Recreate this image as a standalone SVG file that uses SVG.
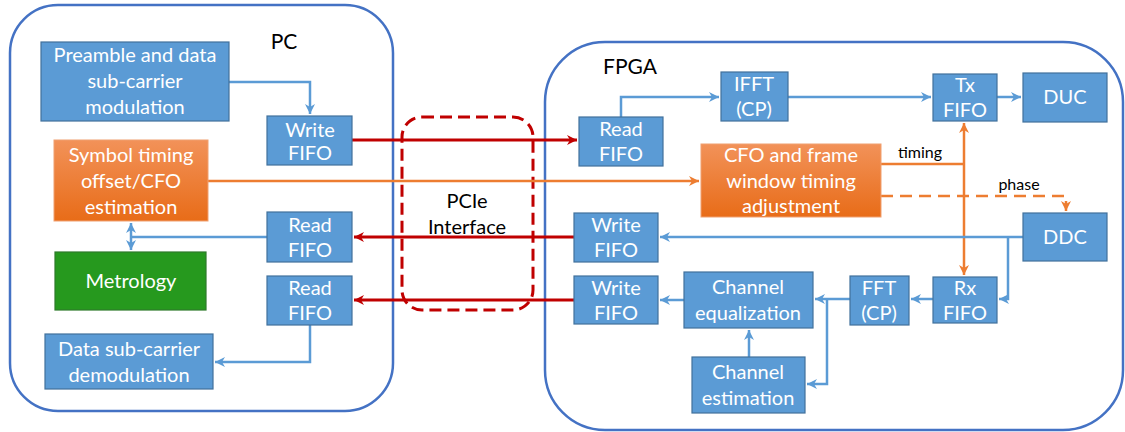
<svg xmlns="http://www.w3.org/2000/svg" width="1125" height="432" viewBox="0 0 1125 432">
<style>
.cont{fill:none;stroke:#4472C4;stroke-width:2.5}
.box{fill:#5B9BD5;stroke:#41719C;stroke-width:1.2}
.t{font-family:Lato,"Open Sans",sans-serif;font-size:20px;fill:#fff;text-anchor:middle}
.lbl{font-family:Lato,"Open Sans",sans-serif;fill:#000;text-anchor:middle}
.b{fill:none;stroke:#5B9BD5;stroke-width:2.5}
.r{fill:none;stroke:#C00000;stroke-width:2.8}
.o{fill:none;stroke:#ED7D31;stroke-width:2.5}
</style>
<defs>
<marker id="ab" markerUnits="userSpaceOnUse" markerWidth="12" markerHeight="12" refX="10" refY="6" orient="auto-start-reverse"><path d="M0,1 L10,6 L0,11 L3,6 Z" fill="#5B9BD5"/></marker>
<marker id="ar" markerUnits="userSpaceOnUse" markerWidth="12" markerHeight="12" refX="10" refY="6" orient="auto"><path d="M0,1 L10,6 L0,11 L3,6 Z" fill="#C00000"/></marker>
<marker id="ao" markerUnits="userSpaceOnUse" markerWidth="12" markerHeight="12" refX="10" refY="6" orient="auto-start-reverse"><path d="M0,1 L10,6 L0,11 L3,6 Z" fill="#ED7D31"/></marker>
<linearGradient id="og" x1="0" y1="0" x2="0" y2="1"><stop offset="0" stop-color="#F29259"/><stop offset="1" stop-color="#E86C18"/></linearGradient>
</defs>
<rect width="1125" height="432" fill="#fff"/>
<g id="pc-container"><rect class="cont" x="10" y="5" width="383" height="406" rx="48"/><text class="lbl" x="284" y="49" font-size="21">PC</text></g>
<g id="fpga-container"><rect class="cont" x="545" y="42" width="578" height="388" rx="60"/><text class="lbl" x="630" y="74" font-size="21">FPGA</text></g>
<g id="pcie"><rect x="402" y="117" width="131" height="193" rx="20" fill="none" stroke="#C00000" stroke-width="3" stroke-dasharray="12 6"/><text class="lbl" font-size="20" x="467" y="208">PCIe</text><text class="lbl" font-size="20" x="467" y="234">Interface</text></g>
<g id="connectors">
<path class="b" d="M229,82 H310 V114" marker-end="url(#ab)"/>
<path class="r" d="M352,140 H577" marker-end="url(#ar)"/>
<path class="o" d="M208,181 H699" marker-end="url(#ao)"/>
<path class="r" d="M574,237 H354" marker-end="url(#ar)"/>
<path class="r" d="M574,300 H354" marker-end="url(#ar)"/>
<path class="b" d="M267,237 H131"/>
<path class="b" d="M131,223 V250" marker-start="url(#ab)" marker-end="url(#ab)"/>
<path class="b" d="M310,325 V362 H215" marker-end="url(#ab)"/>
<path class="b" d="M621,117 V97 H719" marker-end="url(#ab)"/>
<path class="b" d="M788,97 H931" marker-end="url(#ab)"/>
<path class="b" d="M997,97 H1021" marker-end="url(#ab)"/>
<path class="o" d="M881,164 H964"/>
<path class="o" d="M964,123 V275" marker-start="url(#ao)" marker-end="url(#ao)"/>
<path class="o" d="M881,196 H1066 V211" stroke-dasharray="12 7" marker-end="url(#ao)"/>
<path class="b" d="M1023,237 H660" marker-end="url(#ab)"/>
<path class="b" d="M1008,237 V299 H999" marker-end="url(#ab)"/>
<path class="b" d="M933,299 H911" marker-end="url(#ab)"/>
<path class="b" d="M850,299 H815" marker-end="url(#ab)"/>
<path class="b" d="M827,299 V384 H807" marker-end="url(#ab)"/>
<path class="b" d="M749,357 V330" marker-end="url(#ab)"/>
<path class="b" d="M684,300 H660" marker-end="url(#ab)"/>
<text class="lbl" font-size="16" x="920" y="158">timing</text>
<text class="lbl" font-size="16" x="1019" y="190">phase</text>
</g>
<g id="preamble"><rect class="box" x="41" y="42" width="188" height="79"/><text class="t" x="135" y="62">Preamble and data</text><text class="t" x="135" y="88">sub-carrier</text><text class="t" x="135" y="114">modulation</text></g>
<g id="pc-write-fifo"><rect class="box" x="267" y="116" width="85" height="49"/><text class="t" x="310" y="137">Write</text><text class="t" x="310" y="160">FIFO</text></g>
<g id="symbol-timing"><rect x="54" y="140" width="154" height="81" fill="url(#og)" stroke="#F0A070" stroke-width="1"/><text class="t" x="131" y="162">Symbol timing</text><text class="t" x="131" y="188">offset/CFO</text><text class="t" x="131" y="214">estimation</text></g>
<g id="pc-read-fifo-1"><rect class="box" x="267" y="212" width="85" height="50"/><text class="t" x="310" y="232">Read</text><text class="t" x="310" y="257">FIFO</text></g>
<g id="metrology"><rect x="55" y="252" width="151" height="58" fill="#26991E" stroke="#2E7A2A" stroke-width="1.2"/><text class="t" x="131" y="288">Metrology</text></g>
<g id="pc-read-fifo-2"><rect class="box" x="267" y="276" width="85" height="49"/><text class="t" x="310" y="295">Read</text><text class="t" x="310" y="320">FIFO</text></g>
<g id="demod"><rect class="box" x="45" y="334" width="168" height="55"/><text class="t" x="129" y="356">Data sub-carrier</text><text class="t" x="129" y="382">demodulation</text></g>
<g id="fpga-read-fifo"><rect class="box" x="579" y="117" width="84" height="49"/><text class="t" x="621" y="136">Read</text><text class="t" x="621" y="161">FIFO</text></g>
<g id="ifft"><rect class="box" x="721" y="72" width="67" height="49"/><text class="t" x="754" y="91">IFFT</text><text class="t" x="754" y="116">(CP)</text></g>
<g id="tx-fifo"><rect class="box" x="933" y="74" width="64" height="47"/><text class="t" x="965" y="92">Tx</text><text class="t" x="965" y="117">FIFO</text></g>
<g id="duc"><rect class="box" x="1023" y="73" width="84" height="49"/><text class="t" x="1065" y="104">DUC</text></g>
<g id="cfo"><rect x="701" y="144" width="180" height="73" fill="url(#og)" stroke="#F0A070" stroke-width="1"/><text class="t" x="791" y="162">CFO and frame</text><text class="t" x="791" y="188">window timing</text><text class="t" x="791" y="213">adjustment</text></g>
<g id="ddc"><rect class="box" x="1023" y="213" width="84" height="48"/><text class="t" x="1065" y="244">DDC</text></g>
<g id="fpga-write-fifo-1"><rect class="box" x="574" y="213" width="84" height="49"/><text class="t" x="616" y="232">Write</text><text class="t" x="616" y="257">FIFO</text></g>
<g id="rx-fifo"><rect class="box" x="933" y="277" width="64" height="46"/><text class="t" x="965" y="295">Rx</text><text class="t" x="965" y="320">FIFO</text></g>
<g id="fft"><rect class="box" x="850" y="276" width="59" height="49"/><text class="t" x="879" y="295">FFT</text><text class="t" x="879" y="320">(CP)</text></g>
<g id="channel-eq"><rect class="box" x="684" y="272" width="129" height="56"/><text class="t" x="748" y="294">Channel</text><text class="t" x="748" y="320">equalization</text></g>
<g id="fpga-write-fifo-2"><rect class="box" x="574" y="276" width="84" height="48"/><text class="t" x="616" y="295">Write</text><text class="t" x="616" y="320">FIFO</text></g>
<g id="channel-est"><rect class="box" x="692" y="357" width="113" height="56"/><text class="t" x="748" y="379">Channel</text><text class="t" x="748" y="405">estimation</text></g>
</svg>
